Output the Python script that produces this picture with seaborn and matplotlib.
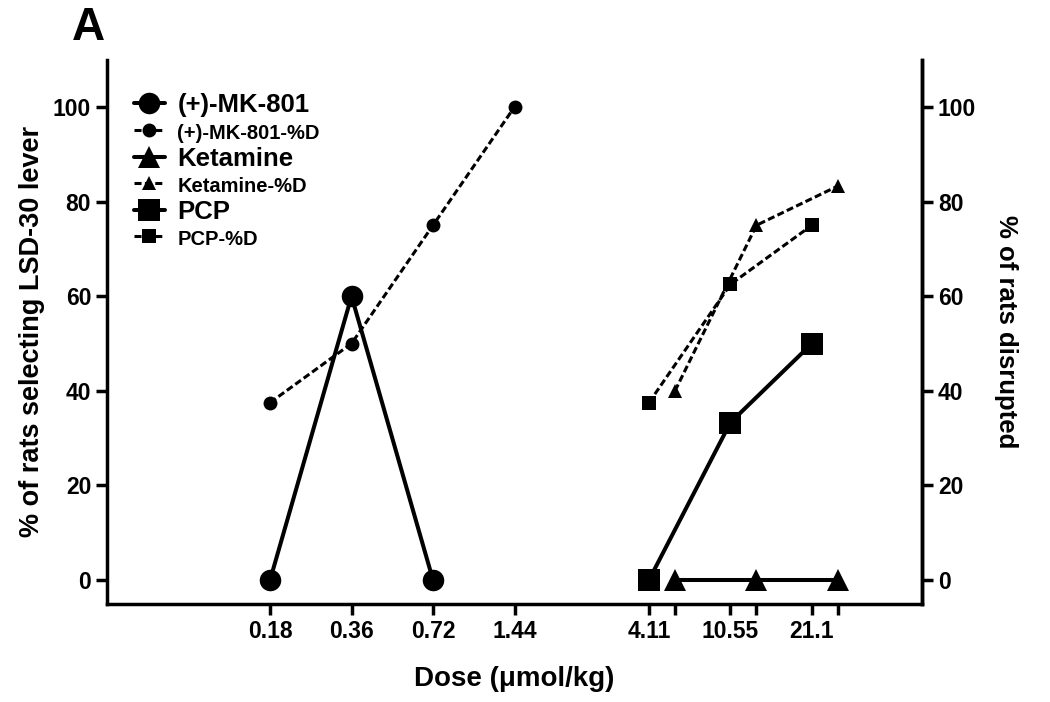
import numpy as np
import pandas as pd
import matplotlib
matplotlib.use('Agg')
import matplotlib.pyplot as plt
import seaborn as sns

# tick labels and where they sit along the dose axis (ordinal log-spacing)
tick_pos = [0, 1, 2, 3, 4.65, 4.97, 5.65, 5.97, 6.65, 6.97]
tick_labels = ['0.18', '0.36', '0.72', '1.44', '4.11', '', '10.55', '', '21.1', '']

# (+)-MK-801
mk_x = [0, 1, 2]
mk_sub = [0, 60, 0]
mk_d_x = [0, 1, 2, 3]
mk_d = [37.5, 50, 75, 100]

# Ketamine
ket_x = [4.97, 5.97, 6.97]
ket_sub = [0, 0, 0]
ket_d = [40, 75, 83.3]

# PCP
pcp_x = [4.65, 5.65, 6.65]
pcp_sub = [0, 33.3, 50]
pcp_d = [37.5, 62.5, 75]

sns.set_style('ticks')
plt.rcParams['font.family'] = ['Liberation Sans', 'DejaVu Sans']
plt.rcParams['font.weight'] = 'bold'
plt.rcParams['axes.labelweight'] = 'bold'
for k in ['text.color', 'axes.labelcolor', 'xtick.color', 'ytick.color', 'axes.edgecolor']:
    plt.rcParams[k] = 'black'

fig = plt.figure(figsize=(10.5, 7.02), dpi=100)
ax = fig.add_axes([0.102, 0.140, 0.776, 0.775])

solid = dict(color='black', linewidth=2.9, markersize=15.5, markeredgewidth=0)
dot = dict(color='black', linewidth=2.2, markersize=10, markeredgewidth=0,
           dashes=(2.3, 1.1))

series = [
    ('(+)-MK-801', mk_x, mk_sub, 'o', solid),
    ('(+)-MK-801-%D', mk_d_x, mk_d, 'o', dot),
    ('Ketamine', ket_x, ket_sub, '^', solid),
    ('Ketamine-%D', ket_x, ket_d, '^', dot),
    ('PCP', pcp_x, pcp_sub, 's', solid),
    ('PCP-%D', pcp_x, pcp_d, 's', dot),
]

for name, xs, ys, mk, st in series:
    kw = dict(st)
    dashes = kw.pop('dashes', None)
    sns.lineplot(x=xs, y=ys, ax=ax, marker=mk, label=name, **kw)
    l = ax.get_lines()[-1]
    if dashes is not None:
        l.set_dashes(dashes)
        l.set_dash_capstyle('butt')

ax.set_xlim(-2, 8)
ax.set_ylim(-5, 110)
ax.set_xticks(tick_pos)
ax.set_xticklabels(tick_labels)
ax.set_yticks([0, 20, 40, 60, 80, 100])
ax.tick_params(axis='both', labelsize=16.5, width=2.5, length=8, direction='out')
for s in ['left', 'bottom', 'right']:
    ax.spines[s].set_linewidth(2.5)
ax.spines['top'].set_visible(False)

ax.set_xlabel('Dose (μmol/kg)', fontsize=20, fontweight='bold', labelpad=17)
ax.set_ylabel('% of rats selecting LSD-30 lever', fontsize=19.5, fontweight='bold', labelpad=6)

ax2 = ax.twinx()
ax2.set_ylim(-5, 110)
ax2.set_yticks([0, 20, 40, 60, 80, 100])
ax2.tick_params(axis='y', labelsize=16.5, width=2.5, length=8, direction='out')
ax2.spines['right'].set_linewidth(2.5)
ax2.spines['top'].set_visible(False)
ax2.spines['left'].set_visible(False)
ax2.spines['bottom'].set_visible(False)
ax2.set_ylabel('% of rats disrupted', fontsize=18.5, fontweight='bold',
               rotation=270, labelpad=30)

leg = ax.legend(loc='upper left', bbox_to_anchor=(0.02, 0.957), frameon=False,
                fontsize=18.5, handlelength=1.2, handletextpad=0.5, labelspacing=0.14,
                borderaxespad=0)
for t in leg.get_texts():
    t.set_fontweight('bold')
    if t.get_text().endswith('%D'):
        t.set_fontsize(14.5)

fig.text(0.084, 0.96, 'A', fontsize=33, fontweight='bold', ha='center', va='center')

for lbl in ax.get_xticklabels() + ax.get_yticklabels() + ax2.get_yticklabels():
    lbl.set_fontweight('bold')

fig.savefig('out.png', dpi=100)
